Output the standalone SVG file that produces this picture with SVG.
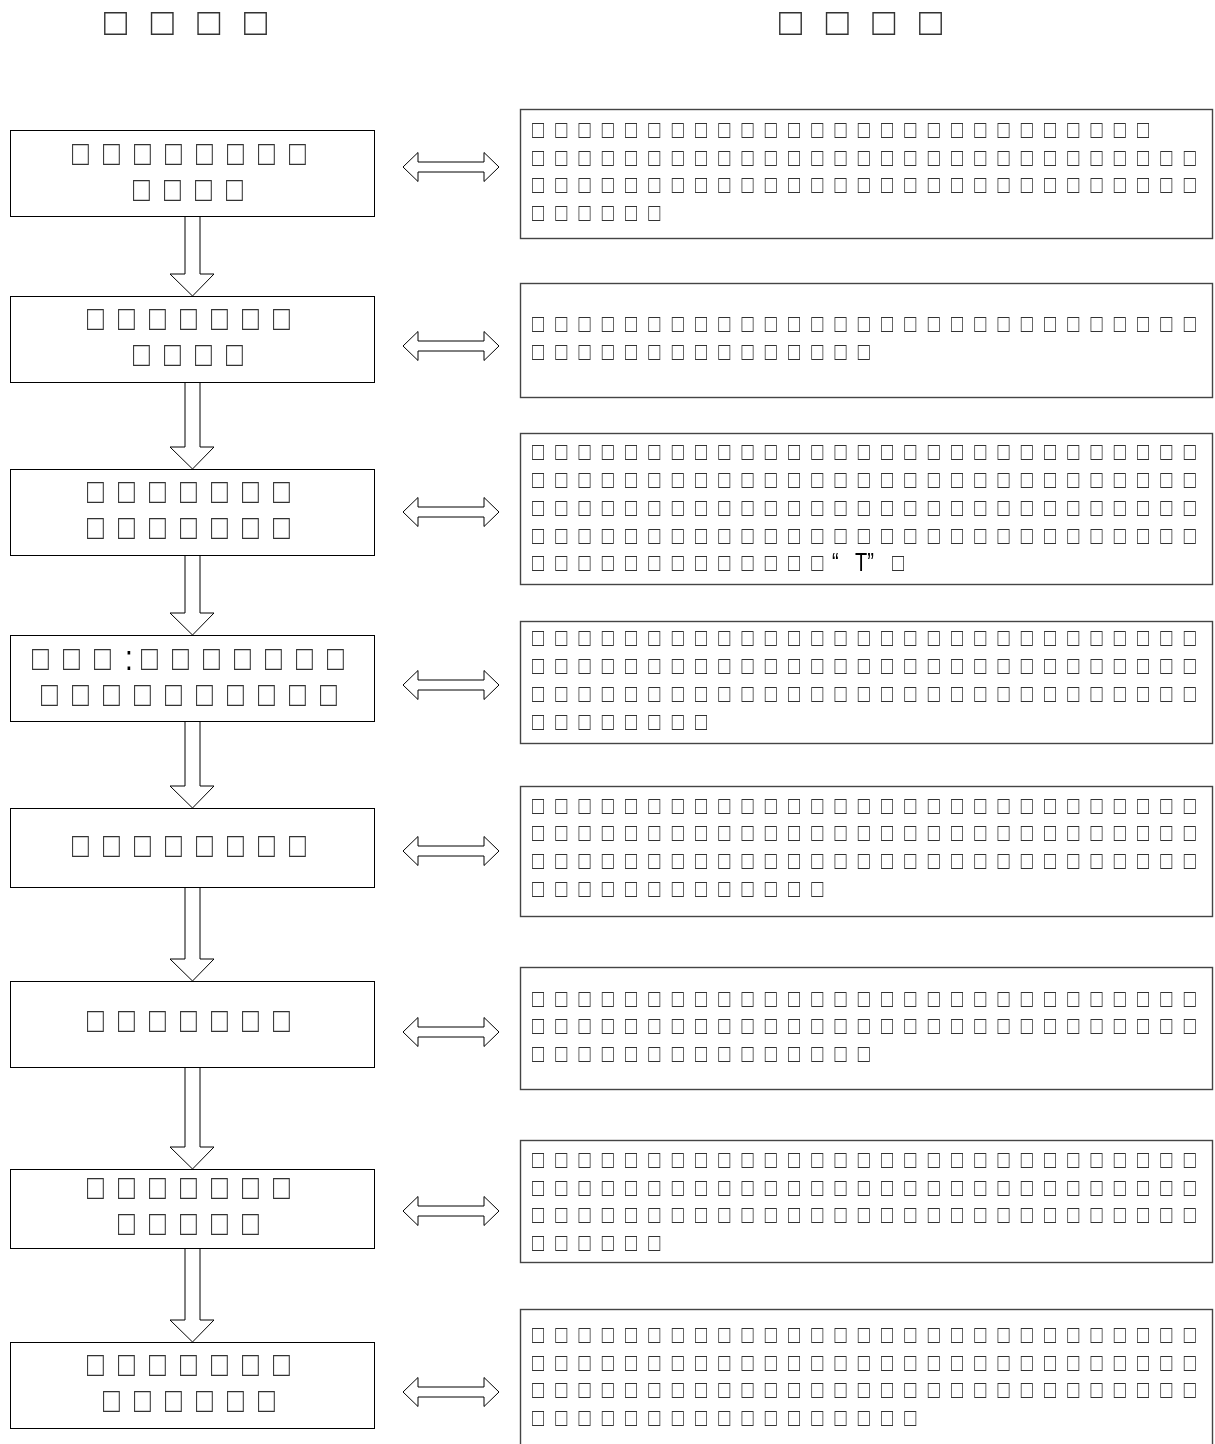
<svg xmlns="http://www.w3.org/2000/svg" width="1215" height="1444" viewBox="0 0 1215 1444">
<defs>
<filter id="gs" x="-5%" y="-20%" width="110%" height="140%" color-interpolation-filters="sRGB">
<feColorMatrix type="saturate" values="0"/>
</filter>
<style>
.bg{fill:#fff}
.lb{fill:#fff;stroke:#000;stroke-width:1}
.rb{fill:#fff;stroke:#444;stroke-width:1.4}
.ar{fill:#fff;stroke:#000;stroke-width:1}
.tx{filter:url(#gs)}
text{font-family:"Liberation Sans","DejaVu Sans",sans-serif;fill:#333}
.tt{font-size:38px;letter-spacing:23.7px}
.lt{font-size:28px;letter-spacing:14.1px}
.rt{font-size:20px;letter-spacing:11.2px}
.q{fill:#000;letter-spacing:0}
</style>
</defs>
<rect class="bg" x="0" y="0" width="1215" height="1444"/>

<g id="titles" class="tx">
<text class="tt" x="104" y="35">□□□□</text>
<text class="tt" x="779" y="35">□□□□</text>
</g>

<g id="connectors">
<polygon class="ar" points="185,216 200,216 200,274 214,274 192.5,296 170,274 185,274"/>
<polygon class="ar" points="185,382 200,382 200,447 214,447 192.5,469 170,447 185,447"/>
<polygon class="ar" points="185,555 200,555 200,613 214,613 192.5,635 170,613 185,613"/>
<polygon class="ar" points="185,721 200,721 200,786 214,786 192.5,808 170,786 185,786"/>
<polygon class="ar" points="185,887 200,887 200,959 214,959 192.5,981 170,959 185,959"/>
<polygon class="ar" points="185,1067 200,1067 200,1147 214,1147 192.5,1169 170,1147 185,1147"/>
<polygon class="ar" points="185,1248 200,1248 200,1320 214,1320 192.5,1342 170,1320 185,1320"/>
<polygon class="ar" points="403,167 418,152.5 418,162 484,162 484,152.5 499,167 484,181.5 484,172 418,172 418,181.5"/>
<polygon class="ar" points="403,346 418,331.5 418,341 484,341 484,331.5 499,346 484,360.5 484,351 418,351 418,360.5"/>
<polygon class="ar" points="403,512 418,497.5 418,507 484,507 484,497.5 499,512 484,526.5 484,517 418,517 418,526.5"/>
<polygon class="ar" points="403,685 418,670.5 418,680 484,680 484,670.5 499,685 484,699.5 484,690 418,690 418,699.5"/>
<polygon class="ar" points="403,851 418,836.5 418,846 484,846 484,836.5 499,851 484,865.5 484,856 418,856 418,865.5"/>
<polygon class="ar" points="403,1032 418,1017.5 418,1027 484,1027 484,1017.5 499,1032 484,1046.5 484,1037 418,1037 418,1046.5"/>
<polygon class="ar" points="403,1211 418,1196.5 418,1206 484,1206 484,1196.5 499,1211 484,1225.5 484,1216 418,1216 418,1225.5"/>
<polygon class="ar" points="403,1392 418,1377.5 418,1387 484,1387 484,1377.5 499,1392 484,1406.5 484,1397 418,1397 418,1406.5"/>
</g>

<g id="step1">
<rect class="lb" x="10.5" y="130.5" width="364" height="86"/>
<g class="tx" transform="scale(1,1.25)">
<text class="lt" x="72" y="132.2">□□□□□□□□</text>
<text class="lt" x="133" y="161">□□□□</text>
</g>
</g>
<g id="step2">
<rect class="lb" x="10.5" y="296.5" width="364" height="86"/>
<g class="tx" transform="scale(1,1.25)">
<text class="lt" x="87" y="264.2">□□□□□□□</text>
<text class="lt" x="133" y="293">□□□□</text>
</g>
</g>
<g id="step3">
<rect class="lb" x="10.5" y="469.5" width="364" height="86"/>
<g class="tx" transform="scale(1,1.25)">
<text class="lt" x="87" y="402.6">□□□□□□□</text>
<text class="lt" x="87" y="431.4">□□□□□□□</text>
</g>
</g>
<g id="step4">
<rect class="lb" x="10.5" y="635.5" width="364" height="86"/>
<g class="tx" transform="scale(1,1.25)">
<text class="lt" x="32" y="536.2">□□□</text>
<text class="lt q" x="125" y="536.2">:</text>
<text class="lt" x="141" y="536.2">□□□□□□□</text>
<text class="lt" x="41" y="565">□□□□□□□□□□</text>
</g>
</g>
<g id="step5">
<rect class="lb" x="10.5" y="808.5" width="364" height="79"/>
<g class="tx" transform="scale(1,1.25)">
<text class="lt" x="72" y="685.8">□□□□□□□□</text>
</g>
</g>
<g id="step6">
<rect class="lb" x="10.5" y="981.5" width="364" height="86"/>
<g class="tx" transform="scale(1,1.25)">
<text class="lt" x="87" y="825.8">□□□□□□□</text>
</g>
</g>
<g id="step7">
<rect class="lb" x="10.5" y="1169.5" width="364" height="79"/>
<g class="tx" transform="scale(1,1.25)">
<text class="lt" x="87" y="959.4">□□□□□□□</text>
<text class="lt" x="118" y="988.2">□□□□□</text>
</g>
</g>
<g id="step8">
<rect class="lb" x="10.5" y="1342.5" width="364" height="86"/>
<g class="tx" transform="scale(1,1.25)">
<text class="lt" x="87" y="1101">□□□□□□□</text>
<text class="lt" x="103" y="1129.8">□□□□□□</text>
</g>
</g>

<g id="desc1">
<rect class="rb" x="520.5" y="109.5" width="692" height="129"/>
<g class="tx" transform="scale(1,1.25)">
<text class="rt" x="532" y="110.08">□□□□□□□□□□□□□□□□□□□□□□□□□□□</text>
<text class="rt" x="532" y="132.48">□□□□□□□□□□□□□□□□□□□□□□□□□□□□□</text>
<text class="rt" x="532" y="154.08">□□□□□□□□□□□□□□□□□□□□□□□□□□□□□</text>
<text class="rt" x="532" y="176.48">□□□□□□</text>
</g>
</g>
<g id="desc2">
<rect class="rb" x="520.5" y="283.5" width="692" height="114"/>
<g class="tx" transform="scale(1,1.25)">
<text class="rt" x="532" y="265.28">□□□□□□□□□□□□□□□□□□□□□□□□□□□□□</text>
<text class="rt" x="532" y="287.68">□□□□□□□□□□□□□□□</text>
</g>
</g>
<g id="desc3">
<rect class="rb" x="520.5" y="433.5" width="692" height="151"/>
<g class="tx" transform="scale(1,1.25)">
<text class="rt" x="532" y="367.68">□□□□□□□□□□□□□□□□□□□□□□□□□□□□□</text>
<text class="rt" x="532" y="390.08">□□□□□□□□□□□□□□□□□□□□□□□□□□□□□</text>
<text class="rt" x="532" y="412.48">□□□□□□□□□□□□□□□□□□□□□□□□□□□□□</text>
<text class="rt" x="532" y="434.88">□□□□□□□□□□□□□□□□□□□□□□□□□□□□□</text>
<text class="rt" x="532" y="456.48">□□□□□□□□□□□□□</text>
<text class="rt q" x="832" y="456.48">“</text>
<text class="rt q" x="855" y="456.48">T”</text>
<text class="rt" x="892" y="456.48">□</text>
</g>
</g>
<g id="desc4">
<rect class="rb" x="520.5" y="621.5" width="692" height="122"/>
<g class="tx" transform="scale(1,1.25)">
<text class="rt" x="532" y="516.48">□□□□□□□□□□□□□□□□□□□□□□□□□□□□□</text>
<text class="rt" x="532" y="538.88">□□□□□□□□□□□□□□□□□□□□□□□□□□□□□</text>
<text class="rt" x="532" y="561.28">□□□□□□□□□□□□□□□□□□□□□□□□□□□□□</text>
<text class="rt" x="532" y="583.68">□□□□□□□□</text>
</g>
</g>
<g id="desc5">
<rect class="rb" x="520.5" y="786.5" width="692" height="130"/>
<g class="tx" transform="scale(1,1.25)">
<text class="rt" x="532" y="650.88">□□□□□□□□□□□□□□□□□□□□□□□□□□□□□</text>
<text class="rt" x="532" y="672.48">□□□□□□□□□□□□□□□□□□□□□□□□□□□□□</text>
<text class="rt" x="532" y="694.88">□□□□□□□□□□□□□□□□□□□□□□□□□□□□□</text>
<text class="rt" x="532" y="717.28">□□□□□□□□□□□□□</text>
</g>
</g>
<g id="desc6">
<rect class="rb" x="520.5" y="967.5" width="692" height="122"/>
<g class="tx" transform="scale(1,1.25)">
<text class="rt" x="532" y="805.28">□□□□□□□□□□□□□□□□□□□□□□□□□□□□□</text>
<text class="rt" x="532" y="826.88">□□□□□□□□□□□□□□□□□□□□□□□□□□□□□</text>
<text class="rt" x="532" y="849.28">□□□□□□□□□□□□□□□</text>
</g>
</g>
<g id="desc7">
<rect class="rb" x="520.5" y="1140.5" width="692" height="122"/>
<g class="tx" transform="scale(1,1.25)">
<text class="rt" x="532" y="934.08">□□□□□□□□□□□□□□□□□□□□□□□□□□□□□</text>
<text class="rt" x="532" y="956.48">□□□□□□□□□□□□□□□□□□□□□□□□□□□□□</text>
<text class="rt" x="532" y="978.08">□□□□□□□□□□□□□□□□□□□□□□□□□□□□□</text>
<text class="rt" x="532" y="1000.48">□□□□□□</text>
</g>
</g>
<g id="desc8">
<rect class="rb" x="520.5" y="1309.5" width="692" height="160"/>
<g class="tx" transform="scale(1,1.25)">
<text class="rt" x="532" y="1074.08">□□□□□□□□□□□□□□□□□□□□□□□□□□□□□</text>
<text class="rt" x="532" y="1096.48">□□□□□□□□□□□□□□□□□□□□□□□□□□□□□</text>
<text class="rt" x="532" y="1118.08">□□□□□□□□□□□□□□□□□□□□□□□□□□□□□</text>
<text class="rt" x="532" y="1140.48">□□□□□□□□□□□□□□□□□</text>
</g>
</g>
</svg>
